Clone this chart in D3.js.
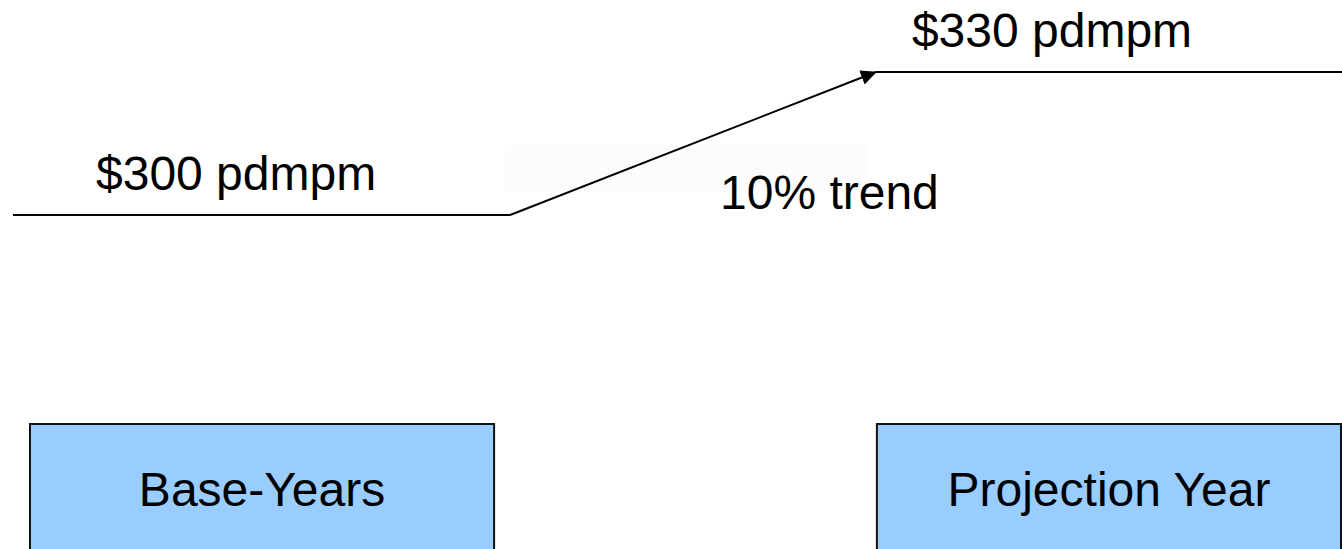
<!DOCTYPE html>
<html>
<head>
<meta charset="utf-8">
<script src="https://cdn.jsdelivr.net/npm/d3@7"></script>
<style>
  html, body { margin: 0; padding: 0; background: #fff; overflow: hidden; }
  svg { display: block; }
  text { font-family: "Liberation Sans", Arial, sans-serif; fill: #000; }
</style>
</head>
<body>
<script>
// Periods shown as boxes along the bottom
const periods = ["Base-Years", "Projection Year"];
// Cost per member per month for each period
const costs = [300, 330];
// Annual trend applied between the periods (percent)
const trendPct = [10];

const W = 1342, H = 549;

const svg = d3.select("body").append("svg")
  .attr("width", W).attr("height", H);

// Horizontal placement of the two period boxes
const x = d3.scaleBand()
  .domain(periods)
  .range([30, 1341])
  .paddingInner(0.452)
  .paddingOuter(0);

// Vertical placement of the cost levels
const y = d3.scaleLinear()
  .domain([costs[0], costs[1]])
  .range([215, 72]);

// faint highlight behind the slope
svg.append("rect")
  .attr("x", 505).attr("y", 145)
  .attr("width", 363).attr("height", 47)
  .attr("fill", "#fcfcfc");

// arrowhead
svg.append("defs").append("marker")
  .attr("id", "arrow")
  .attr("markerUnits", "userSpaceOnUse")
  .attr("markerWidth", 16).attr("markerHeight", 16)
  .attr("viewBox", "0 0 16 16")
  .attr("refX", 15).attr("refY", 8)
  .attr("orient", "auto")
  .append("path")
  .attr("d", "M0,0.5 L16,8 L0,15.5 Z")
  .attr("fill", "#000");

const b0 = x(periods[0]), b1 = x(periods[1]), bw = x.bandwidth();

// cost path: base level, trend slope, projected level
const baseSeg = [[b0 - 17, y(costs[0])], [b0 + bw + 16, y(costs[0])]];
const slopeSeg = [baseSeg[1], [b1 - 1, y(costs[1])]];
const projSeg = [[b1 - 1, y(costs[1])], [W, y(costs[1])]];

const line = d3.line();

svg.append("path").attr("d", line(baseSeg))
  .attr("stroke", "#000").attr("stroke-width", 2).attr("fill", "none");
svg.append("path").attr("d", line(slopeSeg))
  .attr("stroke", "#000").attr("stroke-width", 2).attr("fill", "none")
  .attr("marker-end", "url(#arrow)");
svg.append("path").attr("d", line(projSeg))
  .attr("stroke", "#000").attr("stroke-width", 2).attr("fill", "none");

// value labels
const fs = 48;
svg.append("text")
  .attr("x", b0 + 66).attr("y", y(costs[0]) - 25)
  .attr("font-size", fs)
  .text(`$${costs[0]} pdmpm`);
svg.append("text")
  .attr("x", b1 + 35).attr("y", y(costs[1]) - 25)
  .attr("font-size", fs)
  .text(`$${costs[1]} pdmpm`);
svg.append("text")
  .attr("x", 720).attr("y", 209)
  .attr("font-size", fs)
  .text(`${trendPct[0]}% trend`);

// period boxes
const boxes = svg.selectAll("g.period")
  .data(periods)
  .join("g")
  .attr("class", "period");

boxes.append("rect")
  .attr("x", d => x(d))
  .attr("y", 424)
  .attr("width", bw)
  .attr("height", 200)
  .attr("fill", "#99ccff")
  .attr("stroke", "#111")
  .attr("stroke-width", 2);

boxes.append("text")
  .attr("x", d => x(d) + bw / 2)
  .attr("y", 506)
  .attr("text-anchor", "middle")
  .attr("font-size", fs)
  .text(d => d);
</script>
</body>
</html>
